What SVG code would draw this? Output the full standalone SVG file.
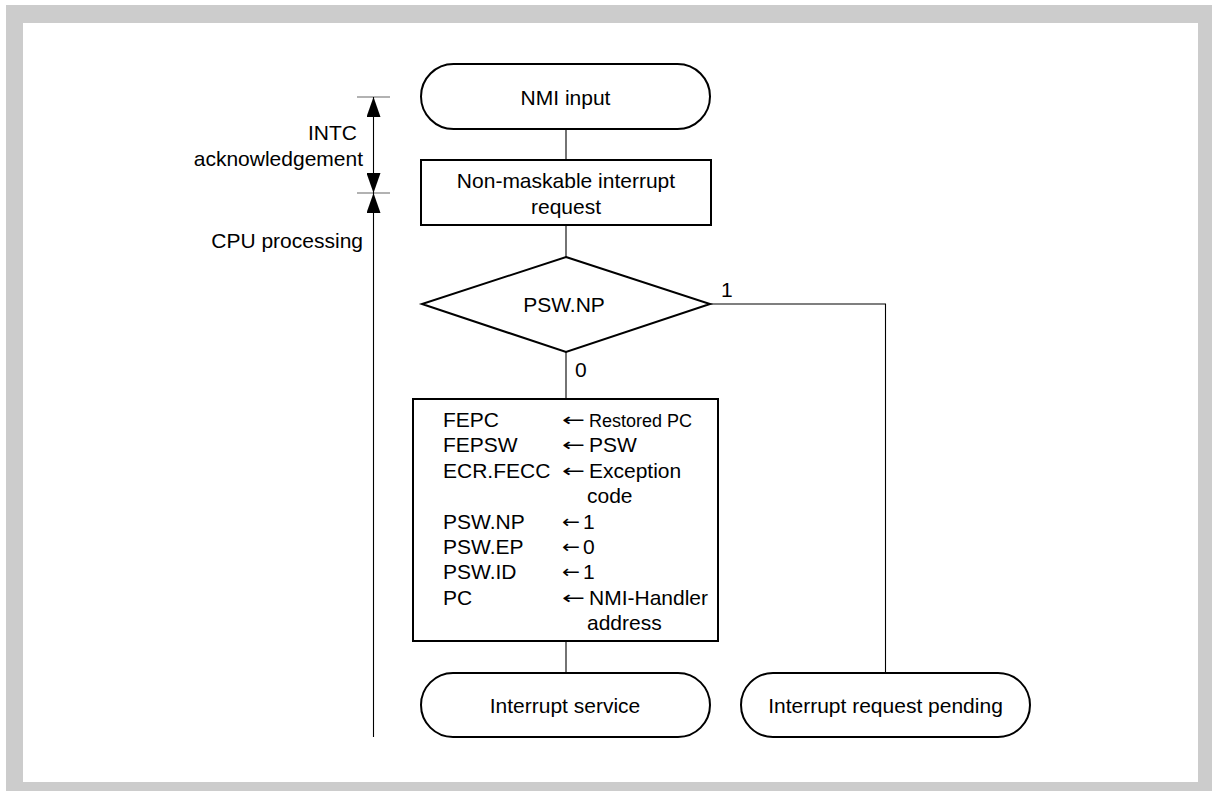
<svg xmlns="http://www.w3.org/2000/svg" width="1212" height="791" viewBox="0 0 1212 791">
<style>
text{font-family:"Liberation Sans",Arial,Helvetica,sans-serif;font-size:21px;fill:#000}
.c{text-anchor:middle}
.e{text-anchor:end}
.shape{fill:#fff;stroke:#000;stroke-width:2}
.conn{fill:none;stroke:#000;stroke-width:1.1}
.tick{stroke:#666;stroke-width:1.2}
.sm{font-size:18px}
.ar{font-family:"DejaVu Sans",sans-serif;font-size:18px}
</style>
<defs>
<marker id="ah" viewBox="0 0 20 14" refX="20" refY="7" markerWidth="20" markerHeight="14" markerUnits="userSpaceOnUse" orient="auto-start-reverse">
<path d="M0,0 L20,7 L0,14 z" fill="#000"/>
</marker>
</defs>
<rect x="6" y="5" width="1206" height="786" fill="#cccccc"/>
<rect x="23" y="23" width="1175" height="759" fill="#fff"/>

<g id="dimension">
<line class="tick" x1="357" y1="97" x2="390" y2="97"/>
<line class="tick" x1="357" y1="193" x2="390" y2="193"/>
<line class="conn" x1="373.5" y1="97" x2="373.5" y2="193" marker-start="url(#ah)" marker-end="url(#ah)"/>
<line class="conn" x1="373.5" y1="193" x2="373.5" y2="737" marker-start="url(#ah)"/>
<text class="e" x="357" y="140">INTC</text>
<text class="e" x="363" y="166">acknowledgement</text>
<text class="e" x="363" y="248">CPU processing</text>
</g>

<g id="connectors">
<line class="conn" x1="566" y1="129" x2="566" y2="160"/>
<line class="conn" x1="566" y1="225" x2="566" y2="257"/>
<line class="conn" x1="566" y1="352" x2="566" y2="399"/>
<line class="conn" x1="566" y1="641" x2="566" y2="673"/>
<polyline class="conn" points="710,304 885.5,304 885.5,673"/>
<text x="721" y="297">1</text>
<text x="575" y="377">0</text>
</g>

<g id="nmi-input">
<rect class="shape" x="421" y="64" width="289" height="65" rx="32.5" ry="32.5"/>
<text class="c" x="565.5" y="105">NMI input</text>
</g>

<g id="nmi-request">
<rect class="shape" x="421" y="160" width="290" height="65"/>
<text class="c" x="566" y="188">Non-maskable interrupt</text>
<text class="c" x="566" y="214">request</text>
</g>

<g id="psw-np">
<polygon class="shape" points="566,257 710,304 566,352 422,304"/>
<text class="c" x="564" y="312">PSW.NP</text>
</g>

<g id="processing">
<rect class="shape" x="413" y="399" width="305" height="242"/>
<text x="443" y="427">FEPC</text><text class="ar" x="562" y="426" textLength="23" lengthAdjust="spacingAndGlyphs">←</text><text class="sm" x="589" y="427">Restored PC</text>
<text x="443" y="452.4">FEPSW</text><text class="ar" x="562" y="451.4" textLength="23" lengthAdjust="spacingAndGlyphs">←</text><text x="589" y="452.4">PSW</text>
<text x="443" y="477.8">ECR.FECC</text><text class="ar" x="562" y="476.8" textLength="23" lengthAdjust="spacingAndGlyphs">←</text><text x="589" y="477.8">Exception</text>
<text x="587" y="503.2">code</text>
<text x="443" y="528.6">PSW.NP</text><text class="ar" x="562" y="527.6" textLength="18" lengthAdjust="spacingAndGlyphs">←</text><text x="583" y="528.6">1</text>
<text x="443" y="554">PSW.EP</text><text class="ar" x="562" y="553" textLength="18" lengthAdjust="spacingAndGlyphs">←</text><text x="583" y="554">0</text>
<text x="443" y="579.4">PSW.ID</text><text class="ar" x="562" y="578.4" textLength="18" lengthAdjust="spacingAndGlyphs">←</text><text x="583" y="579.4">1</text>
<text x="443" y="604.8">PC</text><text class="ar" x="562" y="603.8" textLength="23" lengthAdjust="spacingAndGlyphs">←</text><text x="589" y="604.8">NMI-Handler</text>
<text x="587" y="630.2">address</text>
</g>

<g id="interrupt-service">
<rect class="shape" x="421" y="673" width="289" height="64" rx="32" ry="32"/>
<text class="c" x="565" y="713">Interrupt service</text>
</g>

<g id="request-pending">
<rect class="shape" x="741" y="673" width="289" height="64" rx="32" ry="32"/>
<text class="c" x="885.5" y="713">Interrupt request pending</text>
</g>
</svg>
